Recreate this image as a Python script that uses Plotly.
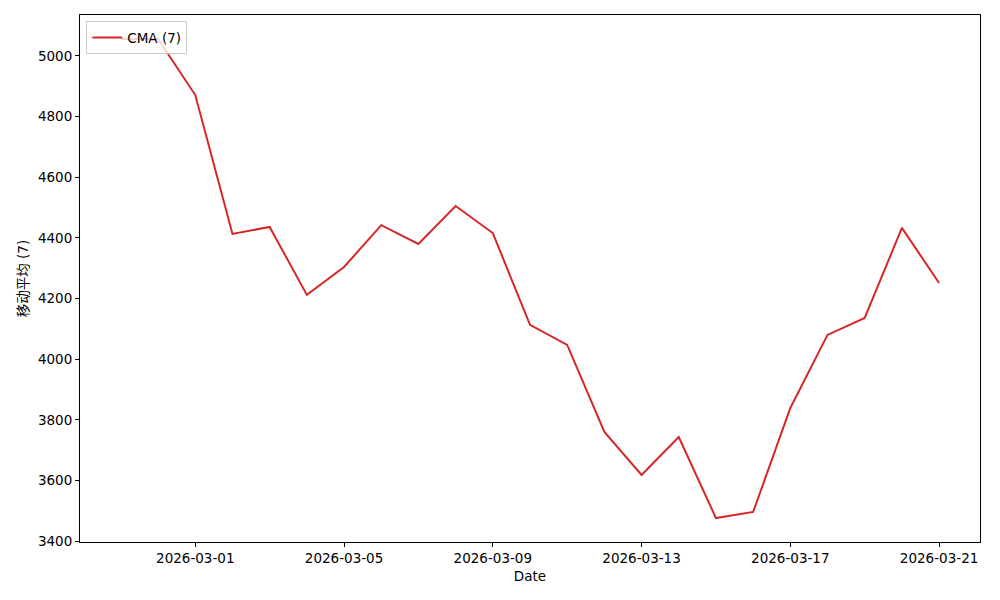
import plotly.graph_objects as go
import pandas as pd

dates = pd.date_range("2026-02-27", "2026-03-21", freq="D").strftime("%Y-%m-%d").tolist()
cma_values = [5056, 5056, 4871, 4413, 4436, 4212, 4304, 4442, 4380, 4505, 4416,
              4113, 4047, 3760, 3618, 3743, 3476, 3496, 3839, 4080, 4136, 4433, 4251]
series_name = "CMA (7)"
y_label = "移动平均 (7)"
x_label = "Date"
x_ticks = ["2026-03-01", "2026-03-05", "2026-03-09", "2026-03-13", "2026-03-17", "2026-03-21"]
y_ticks = [3400, 3600, 3800, 4000, 4200, 4400, 4600, 4800, 5000]

fig = go.Figure()
fig.add_trace(go.Scatter(x=dates, y=cma_values, mode="lines", name=series_name,
                         line=dict(color="#d62728", width=2)))

ymin, ymax = min(cma_values), max(cma_values)
pad = (ymax - ymin) * 0.05
xmin = pd.Timestamp(dates[0]); xmax = pd.Timestamp(dates[-1])
xpad = (xmax - xmin) * 0.05

axis_common = dict(showline=True, linecolor="black", linewidth=1, mirror=True,
                   ticks="outside", ticklen=4, tickcolor="black", showgrid=False,
                   zeroline=False, automargin=False,
                   tickfont=dict(size=13.5, color="black"))

fig.update_layout(
    width=1000, height=600,
    margin=dict(l=72, r=28, t=7, b=66),
    paper_bgcolor="white", plot_bgcolor="white",
    font=dict(family="DejaVu Sans, Noto Sans CJK SC", size=13, color="black"),
    showlegend=True,
    legend=dict(x=0.007, y=0.988, xanchor="left", yanchor="top",
                bordercolor="#cccccc", borderwidth=1, bgcolor="rgba(255,255,255,0.8)",
                font=dict(size=13.5)),
    xaxis=dict(axis_common, range=[xmin - xpad, xmax + xpad], tickvals=x_ticks,
               ticktext=x_ticks, title=dict(text=x_label, standoff=6, font=dict(size=13.5))),
    yaxis=dict(axis_common, range=[ymin - pad, ymax + pad], tickvals=y_ticks,
               title=dict(text=y_label, standoff=6, font=dict(size=13.5))),
)

fig.write_html("out.html")
